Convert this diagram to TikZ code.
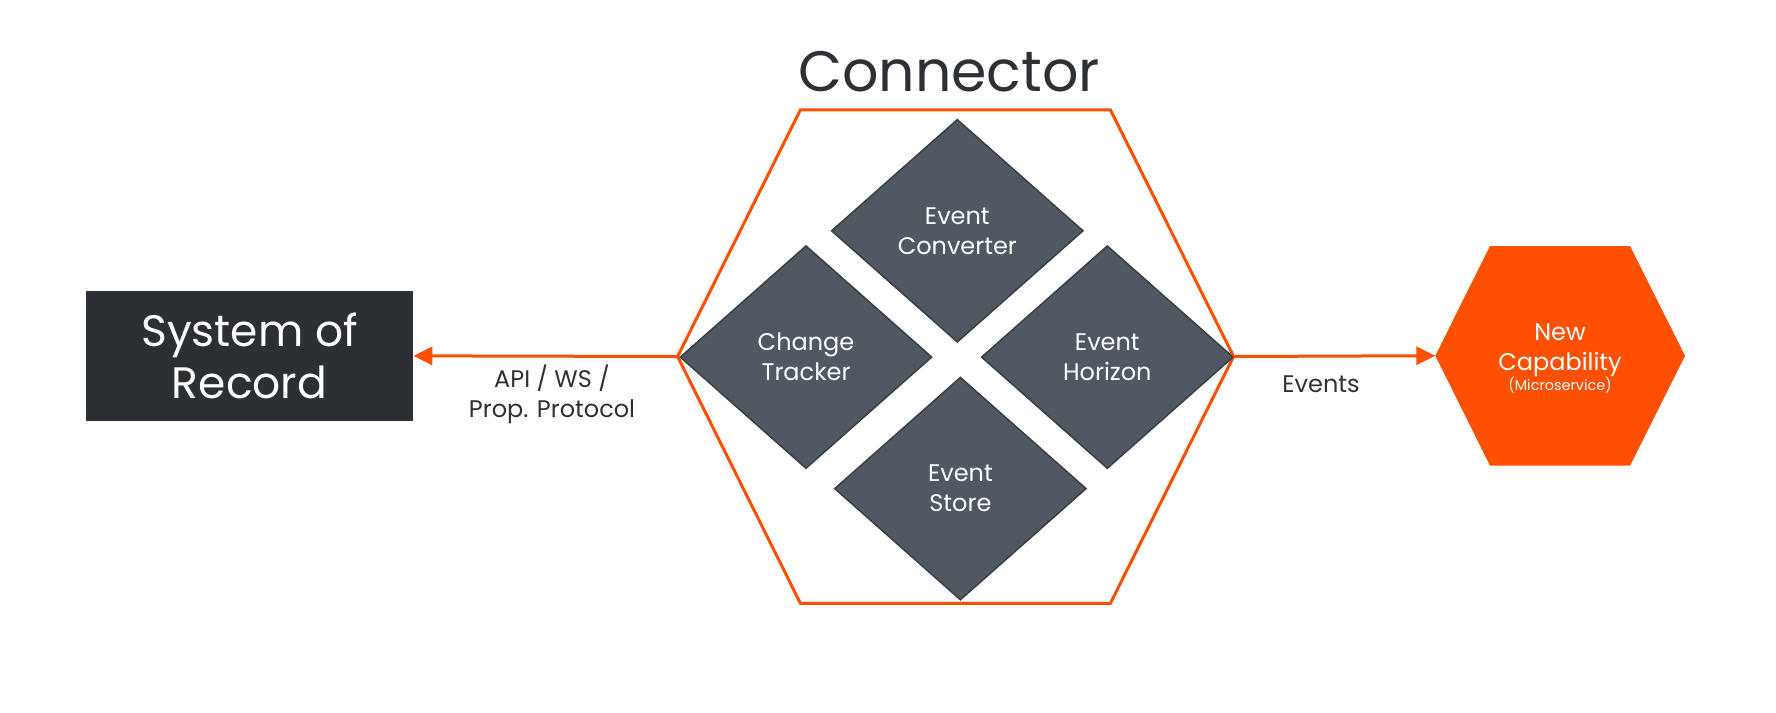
\documentclass[tikz,border=0pt]{standalone}
\usepackage{fontspec}
\setmainfont{Poppins}
\usetikzlibrary{shapes.geometric,arrows.meta}
\definecolor{connorange}{HTML}{FF4F00}
\definecolor{recordgray}{HTML}{2C2F33}
\definecolor{partgray}{HTML}{505862}
\definecolor{partedge}{HTML}{3A3F45}
\definecolor{labelgray}{HTML}{2D3035}
\begin{document}
\begin{tikzpicture}[x=0.5pt,y=-0.5pt]
        \tikzstyle{part}=[diamond,draw=partedge,line width=0.75pt,fill=partgray,text=white,inner sep=0pt,minimum width=126pt,minimum height=111.5pt,align=center,font=\fontsize{12}{15}\selectfont]
        \tikzstyle{flow}=[draw=connorange,line width=1.5pt,-{Triangle[length=9.5pt,width=9pt]}]
        \tikzstyle{caption}=[text=labelgray,align=center,font=\fontsize{12}{15}\selectfont]
        \useasboundingbox (0,0) rectangle (1776,712);

        % connector hexagon
        \node [text=labelgray,font=\fontsize{28.5}{30}\selectfont,anchor=base] (title) at (949,91.7) {Connector};
        \draw[connorange,line width=1.5pt] (800.4,109.8) -- (1110.4,109.8) -- (1233.6,356.5) -- (1110.4,603.3) -- (800.4,603.3) -- (677.6,356.5) -- cycle;
        \coordinate (hexL) at (677.6,356.5);
        \coordinate (hexR) at (1233.6,356.5);

        \node [part] (convert) at (957.3,230.8) {Event\\Converter};
        \node [part] (track) at (806,357.1) {Change\\Tracker};
        \node [part] (horizon) at (1107.3,357.1) {Event\\Horizon};
        \node [part] (store) at (960.4,488.6) {Event\\Store};

        % system of record
        \node [fill=recordgray,text=white,minimum width=163.5pt,minimum height=64.85pt,inner sep=0pt,align=center,font=\fontsize{22}{25.85}\selectfont] (record) at (249.5,355.85) {System of\\Record};
        \draw[flow] (hexL) -- (record.east);
        \node [caption,anchor=base] (api) at (552,417.7) {API / WS /\\Prop. Protocol};

        % new capability
        \fill[connorange] (1490,246) -- (1630,246) -- (1685,355.7) -- (1630,465.7) -- (1490,465.7) -- (1435.3,355.7) -- cycle;
        \coordinate (capL) at (1435.3,355.7);
        \draw[flow] (hexR) -- (capL);
        \node [caption,anchor=base] (events) at (1321,392.7) {Events};
        \node [text=white,align=center,anchor=base,font=\fontsize{12}{15}\selectfont] (newcap) at (1560,390) {New\\Capability\\[-5.35pt]{\fontsize{7.2}{8}\selectfont (Microservice)}};
\end{tikzpicture}
\end{document}
